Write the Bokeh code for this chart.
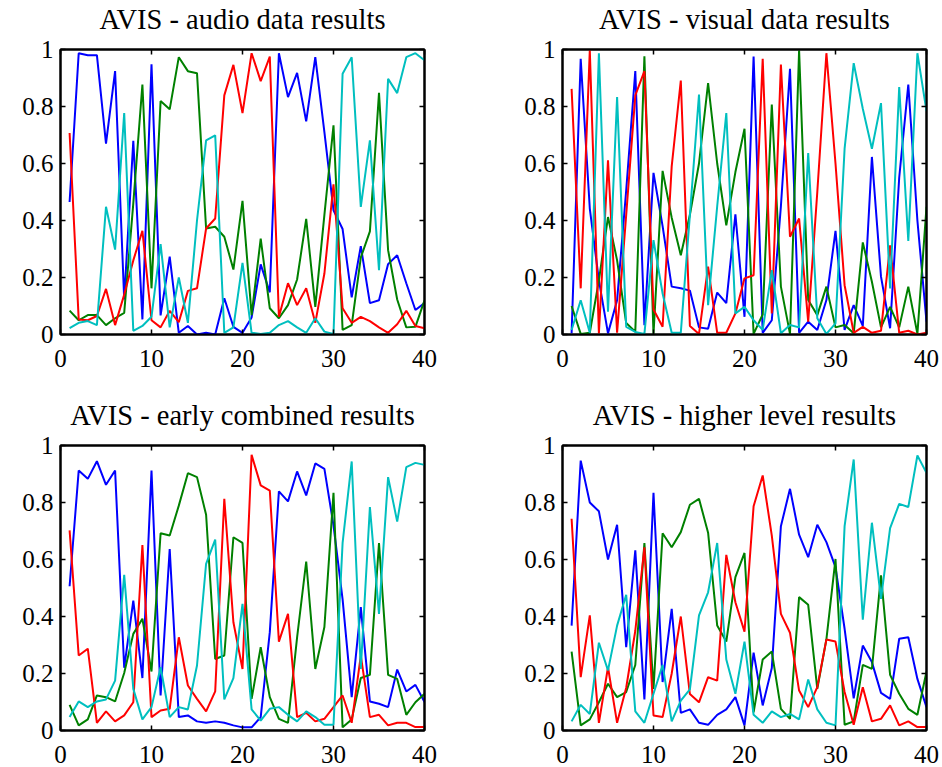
from bokeh.plotting import figure
from bokeh.layouts import column, row
from bokeh.models import Range1d, FixedTicker, LinearAxis, CustomJSTickFormatter
from bokeh.embed import file_html
from bokeh.resources import INLINE

x = list(range(1, 41))

titles = ["AVIS - audio data results", "AVIS - visual data results",
          "AVIS - early combined results", "AVIS - higher level results"]
x_ticks = [0, 10, 20, 30, 40]
y_ticks = [0, 0.2, 0.4, 0.6, 0.8, 1.0]

# audio
blue_a = [0.465, 0.987, 0.98, 0.98, 0.67, 0.924, 0.123, 0.68, 0.053, 0.948,
          0.067, 0.273, 0.006, 0.03, 0.0, 0.006, 0.0, 0.127, 0.027, 0.006,
          0.06, 0.246, 0.148, 0.987, 0.833, 0.918, 0.748, 0.973, 0.71, 0.436,
          0.37, 0.13, 0.31, 0.11, 0.12, 0.247, 0.278, 0.18, 0.086, 0.11]
green_a = [0.084, 0.05, 0.068, 0.068, 0.033, 0.057, 0.076, 0.46, 0.877, 0.162,
           0.819, 0.79, 0.973, 0.924, 0.917, 0.372, 0.378, 0.343, 0.228, 0.469,
           0.068, 0.336, 0.092, 0.057, 0.103, 0.193, 0.406, 0.097, 0.42, 0.734,
           0.016, 0.033, 0.27, 0.362, 0.848, 0.296, 0.123, 0.025, 0.027, 0.12]
red_a = [0.707, 0.053, 0.05, 0.065, 0.16, 0.033, 0.14, 0.26, 0.364, 0.05,
         0.025, 0.083, 0.043, 0.153, 0.162, 0.372, 0.407, 0.839, 0.946, 0.777,
         0.987, 0.889, 0.975, 0.062, 0.18, 0.103, 0.162, 0.041, 0.214, 0.527,
         0.092, 0.041, 0.062, 0.047, 0.025, 0.006, 0.036, 0.083, 0.03, 0.022]
cyan_a = [0.022, 0.041, 0.047, 0.033, 0.448, 0.298, 0.777, 0.013, 0.03, 0.062,
          0.317, 0.025, 0.2, 0.041, 0.4, 0.681, 0.699, 0.006, 0.025, 0.251,
          0.006, 0.002, 0.006, 0.033, 0.047, 0.025, 0.006, 0.057, 0.01, 0.002,
          0.915, 0.973, 0.448, 0.681, 0.226, 0.897, 0.847, 0.973, 0.987, 0.962]

# visual
blue_v = [0.004, 0.967, 0.442, 0.19, 0.004, 0.12, 0.506, 0.924, 0.033, 0.567,
          0.38, 0.168, 0.162, 0.154, 0.025, 0.02, 0.147, 0.11, 0.422, 0.062,
          0.975, 0.006, 0.05, 0.45, 0.932, 0.006, 0.045, 0.016, 0.121, 0.364,
          0.016, 0.103, 0.03, 0.623, 0.203, 0.022, 0.55, 0.877, 0.4, 0.045]
green_v = [0.1, 0.002, 0.006, 0.19, 0.412, 0.26, 0.04, 0.01, 0.976, 0.002,
           0.574, 0.41, 0.278, 0.42, 0.6, 0.882, 0.6, 0.383, 0.57, 0.722,
           0.002, 0.07, 0.807, 0.168, 0.002, 0.997, 0.121, 0.068, 0.168, 0.025,
           0.033, 0.004, 0.323, 0.185, 0.025, 0.097, 0.025, 0.168, 0.002, 0.448]
red_v = [0.862, 0.162, 0.997, 0.004, 0.611, 0.006, 0.42, 0.839, 0.924, 0.088,
         0.027, 0.59, 0.891, 0.03, 0.002, 0.238, 0.006, 0.006, 0.074, 0.197,
         0.208, 0.967, 0.074, 0.947, 0.343, 0.407, 0.045, 0.5, 0.987, 0.6,
         0.173, 0.006, 0.027, 0.006, 0.013, 0.313, 0.006, 0.013, 0.0, 0.006]
cyan_v = [0.016, 0.12, 0.006, 0.987, 0.08, 0.833, 0.027, 0.009, 0.002, 0.331,
          0.144, 0.006, 0.006, 0.42, 0.842, 0.103, 0.45, 0.777, 0.074, 0.097,
          0.05, 0.016, 0.226, 0.004, 0.033, 0.025, 0.637, 0.057, 0.002, 0.039,
          0.652, 0.952, 0.792, 0.652, 0.812, 0.162, 0.868, 0.328, 0.987, 0.784]

# early combined
blue_e = [0.506, 0.912, 0.883, 0.945, 0.862, 0.912, 0.22, 0.456, 0.184, 0.912,
          0.123, 0.637, 0.047, 0.053, 0.032, 0.027, 0.032, 0.027, 0.018, 0.011,
          0.011, 0.047, 0.345, 0.839, 0.804, 0.909, 0.825, 0.937, 0.918, 0.72,
          0.46, 0.117, 0.433, 0.102, 0.094, 0.082, 0.214, 0.137, 0.16, 0.1]
green_e = [0.09, 0.018, 0.039, 0.123, 0.117, 0.102, 0.202, 0.339, 0.392, 0.207,
           0.692, 0.684, 0.789, 0.903, 0.889, 0.757, 0.251, 0.263, 0.678, 0.658,
           0.111, 0.292, 0.117, 0.041, 0.027, 0.327, 0.593, 0.216, 0.363, 0.834,
           0.011, 0.039, 0.184, 0.195, 0.658, 0.195, 0.181, 0.055, 0.099, 0.129]
red_e = [0.702, 0.263, 0.287, 0.027, 0.067, 0.032, 0.053, 0.099, 0.651, 0.047,
         0.07, 0.076, 0.327, 0.158, 0.111, 0.067, 0.137, 0.813, 0.38, 0.216,
         0.967, 0.86, 0.842, 0.312, 0.409, 0.047, 0.062, 0.032, 0.041, 0.082,
         0.123, 0.027, 0.263, 0.047, 0.055, 0.018, 0.027, 0.027, 0.012, 0.012]
cyan_e = [0.047, 0.102, 0.082, 0.102, 0.109, 0.175, 0.546, 0.146, 0.039, 0.082,
          0.222, 0.047, 0.082, 0.074, 0.228, 0.585, 0.67, 0.109, 0.184, 0.444,
          0.074, 0.035, 0.076, 0.082, 0.055, 0.032, 0.067, 0.047, 0.02, 0.02,
          0.658, 0.944, 0.216, 0.784, 0.409, 0.889, 0.733, 0.924, 0.939, 0.932]

# higher level
blue_h = [0.368, 0.947, 0.8, 0.769, 0.6, 0.722, 0.292, 0.632, 0.109, 0.834,
          0.17, 0.427, 0.062, 0.074, 0.027, 0.02, 0.055, 0.074, 0.117, 0.018,
          0.273, 0.088, 0.219, 0.717, 0.848, 0.687, 0.608, 0.722, 0.661, 0.573,
          0.357, 0.113, 0.298, 0.24, 0.132, 0.111, 0.322, 0.327, 0.181, 0.082]
green_h = [0.277, 0.018, 0.039, 0.099, 0.164, 0.117, 0.135, 0.23, 0.658, 0.146,
           0.692, 0.643, 0.696, 0.792, 0.813, 0.694, 0.368, 0.312, 0.538, 0.623,
           0.064, 0.249, 0.277, 0.076, 0.041, 0.468, 0.441, 0.146, 0.32, 0.602,
           0.02, 0.032, 0.23, 0.216, 0.544, 0.195, 0.129, 0.076, 0.055, 0.207]
red_h = [0.743, 0.187, 0.404, 0.027, 0.222, 0.027, 0.15, 0.35, 0.643, 0.053,
         0.047, 0.2, 0.4, 0.128, 0.099, 0.187, 0.175, 0.616, 0.45, 0.347,
         0.787, 0.895, 0.684, 0.409, 0.343, 0.14, 0.082, 0.152, 0.319, 0.312,
         0.135, 0.02, 0.152, 0.032, 0.041, 0.088, 0.018, 0.032, 0.012, 0.012]
cyan_h = [0.032, 0.09, 0.058, 0.308, 0.211, 0.368, 0.476, 0.067, 0.027, 0.129,
          0.23, 0.032, 0.105, 0.144, 0.404, 0.485, 0.658, 0.249, 0.129, 0.312,
          0.055, 0.027, 0.067, 0.047, 0.058, 0.039, 0.179, 0.074, 0.027, 0.018,
          0.717, 0.951, 0.389, 0.729, 0.462, 0.71, 0.795, 0.784, 0.965, 0.904]

colors = ["#0000ff", "#008000", "#ff0000", "#00bfbf"]
FONT = "Liberation Serif"


def style_axis(ax, labels, standoff):
    ax.axis_line_color = "black"
    ax.axis_line_width = 2
    ax.major_tick_in = 5
    ax.major_tick_out = 0
    ax.major_tick_line_width = 1.5
    ax.major_tick_line_color = "black"
    ax.minor_tick_in = 0
    ax.minor_tick_out = 0
    ax.major_label_text_font = FONT
    if labels:
        ax.major_label_text_color = "black"
        ax.major_label_text_font_size = "25px"
        ax.major_label_standoff = standoff
    else:
        ax.major_label_text_color = None
        ax.major_label_text_font_size = "0px"
        ax.major_label_standoff = 0


def make(title, series, lb, rb, tb, bb, fw=364, fh=285):
    p = figure(width=lb + fw + rb, height=tb + fh + bb,
               x_range=Range1d(0, 40), y_range=Range1d(0, 1),
               output_backend="svg", toolbar_location=None,
               x_axis_location=None, y_axis_location=None,
               min_border_left=lb, min_border_right=rb,
               min_border_top=tb, min_border_bottom=bb)
    p.grid.visible = False
    p.outline_line_color = "black"
    p.outline_line_width = 2
    p.background_fill_color = "white"
    p.border_fill_color = "white"

    xf = CustomJSTickFormatter(code="return tick.toFixed(0);")
    yf = CustomJSTickFormatter(
        code="return (Math.abs(tick) < 1e-9 || Math.abs(tick - 1) < 1e-9) ? tick.toFixed(0) : tick.toFixed(1);")

    bx = LinearAxis(ticker=FixedTicker(ticks=x_ticks, minor_ticks=[]), formatter=xf)
    style_axis(bx, True, 15)
    p.add_layout(bx, "below")
    ly = LinearAxis(ticker=FixedTicker(ticks=y_ticks, minor_ticks=[]), formatter=yf)
    style_axis(ly, True, 7)
    p.add_layout(ly, "left")
    tx = LinearAxis(ticker=FixedTicker(ticks=x_ticks, minor_ticks=[]), formatter=xf)
    style_axis(tx, False, 0)
    p.add_layout(tx, "above")
    ry = LinearAxis(ticker=FixedTicker(ticks=y_ticks, minor_ticks=[]), formatter=yf)
    style_axis(ry, False, 0)
    p.add_layout(ry, "right")

    # invisible spacer between the top tick axis and the title
    sp = LinearAxis(ticker=FixedTicker(ticks=x_ticks, minor_ticks=[]), formatter=xf)
    sp.axis_line_color = None
    sp.major_tick_line_color = None
    sp.minor_tick_line_color = None
    sp.major_tick_in = 0
    sp.major_tick_out = 15
    sp.minor_tick_in = 0
    sp.minor_tick_out = 0
    sp.major_label_text_color = None
    sp.major_label_text_font_size = "0px"
    sp.major_label_standoff = 0
    p.add_layout(sp, "above")

    for ys, c in zip(series, colors):
        p.line(x, ys, line_color=c, line_width=2)

    p.title.text = title
    p.title.text_font = FONT
    p.title.text_font_size = "28.5px"
    p.title.text_font_style = "normal"
    p.title.text_color = "black"
    p.title.align = "center"
    p.title.standoff = 0
    return p


p1 = make(titles[0], [blue_a, green_a, red_a, cyan_a], 60, 85, 49, 62)
p2 = make(titles[1], [blue_v, green_v, red_v, cyan_v], 53, 15, 49, 62)
p3 = make(titles[2], [blue_e, green_e, red_e, cyan_e], 60, 85, 49, 36)
p4 = make(titles[3], [blue_h, green_h, red_h, cyan_h], 53, 15, 49, 36)

layout = column(row(p1, p2), row(p3, p4))
open("out.html", "w").write(file_html(layout, INLINE))
